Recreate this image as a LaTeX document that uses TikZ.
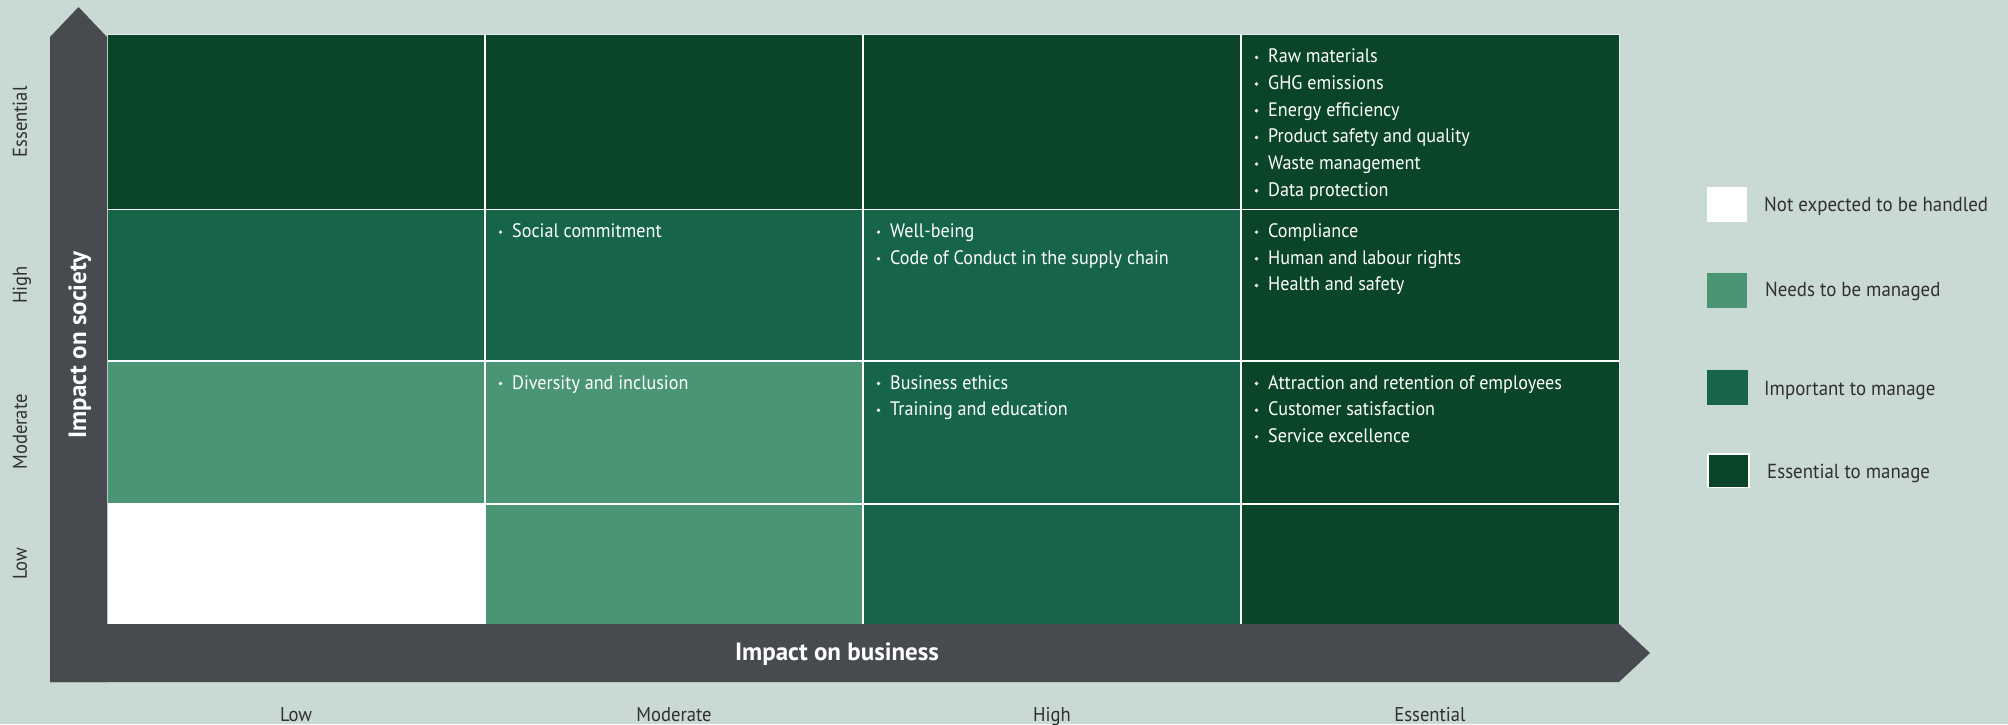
\documentclass[tikz,border=0pt]{standalone}
\usepackage{fontspec}
\setmainfont{PT Sans}[FakeStretch=0.93]
\newfontfamily\titlefont{PT Sans}
\definecolor{bg}{HTML}{C9D9D3}
\definecolor{essential}{HTML}{0A4527}
\definecolor{important}{HTML}{166549}
\definecolor{needs}{HTML}{4A9574}
\definecolor{axisbar}{HTML}{474A4E}
\definecolor{labeltext}{HTML}{303030}

% one coloured cell of the matrix: name, left, top, right, bottom, colour
\newcommand\matcell[6]{%
  \node[cellbox, fill=#6, minimum width={#4-#2}, minimum height={#5-#3}]
    (#1) at (#2,#3) {};}

% bulleted entries of a cell: name prefix, cell left, cell top, entries
\newcommand\matitems[4]{%
  \foreach \t [count=\i from 0] in {#4} {
    \fill[white] ({#2+15.5},{#3+28.3-5.5+\i*26.67}) circle (1.85);
    \node[entry] (#1-\i) at ({#2+27},{#3+28.3+\i*26.67}) {\t};
  }}

\begin{document}
\begin{tikzpicture}[x=1pt,y=-1pt,
  cellbox/.style={draw=none, inner sep=0, outer sep=0, anchor=north west},
  entry/.style={anchor=base west, inner sep=0, text=white,
                font=\fontsize{19.5}{24}\selectfont},
  level/.style={anchor=base, inner sep=0, text=labeltext,
                font=\fontsize{20}{24}\selectfont},
  axistitle/.style={anchor=base, inner sep=0, text=white,
                font=\titlefont\bfseries\fontsize{25}{30}\selectfont},
  keybox/.style={draw=none, inner sep=0, outer sep=0, anchor=north west,
                 minimum width=40, minimum height=35},
  keytext/.style={anchor=base west, inner sep=0, text=labeltext,
                font=\fontsize{20.3}{25}\selectfont},
  gridline/.style={white, line width=1.6}]

% background
\fill[bg] (0,0) rectangle (2008,724);
\useasboundingbox (0,0) rectangle (2008,724);

% axis arrows
\fill[axisbar] (50,682) -- (50,37) -- (78.5,7) -- (107,37) -- (107,682) -- cycle;
\fill[axisbar] (50,624) -- (1619,624) -- (1650,653) -- (1619,682) -- (50,682) -- cycle;

% matrix cells (rows: Essential, High, Moderate, Low)
\matcell{c11}{107.5}{34.6}{485}{209.3}{essential}
\matcell{c12}{485}{34.6}{863}{209.3}{essential}
\matcell{c13}{863}{34.6}{1241}{209.3}{essential}
\matcell{c14}{1241}{34.6}{1619}{209.3}{essential}
\matcell{c21}{107.5}{209.3}{485}{360.7}{important}
\matcell{c22}{485}{209.3}{863}{360.7}{important}
\matcell{c23}{863}{209.3}{1241}{360.7}{important}
\matcell{c24}{1241}{209.3}{1619}{360.7}{essential}
\matcell{c31}{107.5}{360.7}{485}{504}{needs}
\matcell{c32}{485}{360.7}{863}{504}{needs}
\matcell{c33}{863}{360.7}{1241}{504}{important}
\matcell{c34}{1241}{360.7}{1619}{504}{essential}
\matcell{c41}{107.5}{504}{485}{624}{white}
\matcell{c42}{485}{504}{863}{624}{needs}
\matcell{c43}{863}{504}{1241}{624}{important}
\matcell{c44}{1241}{504}{1619}{624}{essential}

% cell separators
\foreach \x in {485,863,1241} \draw[gridline] (\x,34.6) -- (\x,624);
\foreach \y in {209.3,360.7,504} \draw[gridline] (107.5,\y) -- (1619,\y);
\draw[white, opacity=0.5, line width=1] (107.5,34.6) -- (1619,34.6) -- (1619,624);

% cell entries
\matitems{e14}{1241}{34.6}{Raw materials, GHG emissions, Energy efficiency,
  Product safety and quality, Waste management, Data protection}
\matitems{e22}{485}{209.3}{Social commitment}
\matitems{e23}{863}{209.3}{Well-being, Code of Conduct in the supply chain}
\matitems{e24}{1241}{209.3}{Compliance, Human and labour rights, Health and safety}
\matitems{e32}{485}{360.7}{Diversity and inclusion}
\matitems{e33}{863}{360.7}{Business ethics, Training and education}
\matitems{e34}{1241}{360.7}{Attraction and retention of employees,
  Customer satisfaction, Service excellence}

% axis titles
\node[axistitle, rotate=90] (society) at (86,345) {Impact on society};
\node[axistitle] (business) at (837,660) {Impact on business};

% level labels
\node[level, rotate=90] (yess) at (27,122) {Essential};
\node[level, rotate=90] (yhigh) at (27,285) {High};
\node[level, rotate=90] (ymod) at (27,432) {Moderate};
\node[level, rotate=90] (ylow) at (27,564) {Low};
\node[level] (xlow) at (296,721) {Low};
\node[level] (xmod) at (674,721) {Moderate};
\node[level] (xhigh) at (1052,721) {High};
\node[level] (xess) at (1430,721) {Essential};

% key
\node[keybox, fill=white] (k1) at (1707,187) {};
\node[keybox, fill=needs] (k2) at (1707,273) {};
\node[keybox, fill=important, minimum width=41] (k3) at (1707,370) {};
\node[keybox, fill=essential, draw=white, line width=1.5, minimum width=41,
      minimum height=33.5] (k4) at (1708,454) {};
\node[keytext] (t1) at (1764,211.7) {Not expected to be handled};
\node[keytext] (t2) at (1765,296.7) {Needs to be managed};
\node[keytext] (t3) at (1764,395) {Important to manage};
\node[keytext] (t4) at (1767,478.3) {Essential to manage};
\end{tikzpicture}
\end{document}
